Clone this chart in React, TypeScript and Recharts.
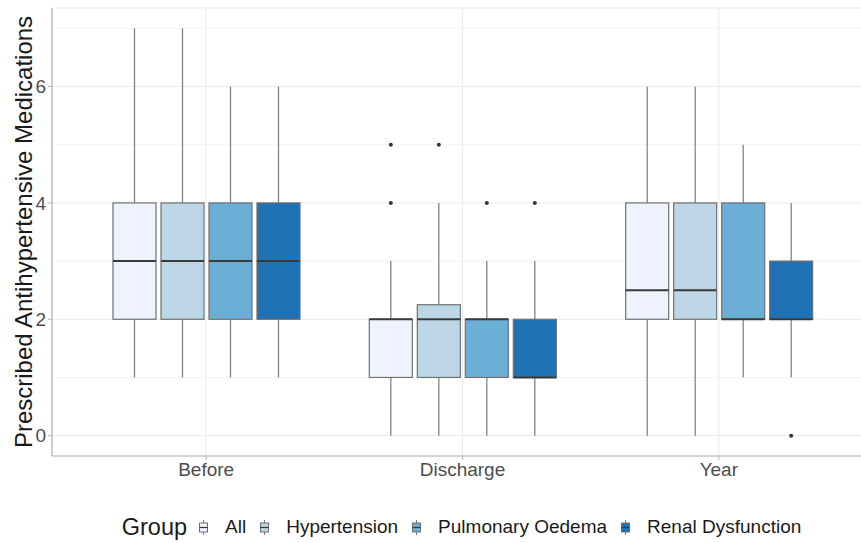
import { ComposedChart, Bar, XAxis, YAxis, CartesianGrid } from "recharts";

const categories = ["Before", "Discharge", "Year"];
const groups = ["All", "Hypertension", "Pulmonary Oedema", "Renal Dysfunction"];
const COLORS = ["#EFF3FF", "#BDD7E7", "#6BAED6", "#2171B5"];

// [lower whisker, q1, median, q3, upper whisker] for Before / Discharge / Year
const allStats = [[1, 2, 3, 4, 7], [0, 1, 2, 2, 3], [0, 2, 2.5, 4, 6]];
const hypertensionStats = [[1, 2, 3, 4, 7], [0, 1, 2, 2.25, 4], [0, 2, 2.5, 4, 6]];
const pulmonaryStats = [[1, 2, 3, 4, 6], [0, 1, 2, 2, 3], [1, 2, 2, 4, 5]];
const renalStats = [[1, 2, 3, 4, 6], [0, 1, 1, 2, 3], [1, 2, 2, 3, 4]];

const allOutliers = [[], [4, 5], []];
const hypertensionOutliers = [[], [5], []];
const pulmonaryOutliers = [[], [4], []];
const renalOutliers = [[], [4], [0]];

const yTicks = [0, 2, 4, 6];
const yMinor = [1, 3, 5, 7];
const yDomain = [-0.35, 7.35];

const stats = [allStats, hypertensionStats, pulmonaryStats, renalStats];
const outliers = [allOutliers, hypertensionOutliers, pulmonaryOutliers, renalOutliers];

// one row per category, box range [q1, q3] per group
const data = categories.map((name, i) => {
  const row: Record<string, any> = { name };
  groups.forEach((_, g) => {
    row[`g${g}`] = [stats[g][i][1], stats[g][i][3]];
  });
  return row;
});

const FONT = "'Liberation Sans', Arial, Helvetica, sans-serif";

function makeBox(g: number) {
  return (props: any) => {
    const { x, y, width, height, index } = props;
    const [lo, q1, med, q3, hi] = stats[g][index];
    const top = Math.min(y, y + height);
    const h = Math.abs(height);
    const ppu = h / (q3 - q1);
    const yOf = (v: number) => top + (q3 - v) * ppu;
    const cx = x + width / 2;
    return (
      <g>
        <line x1={cx} x2={cx} y1={yOf(hi)} y2={yOf(q3)} stroke="#7a7a7a" strokeWidth={1.2} />
        <line x1={cx} x2={cx} y1={yOf(q1)} y2={yOf(lo)} stroke="#7a7a7a" strokeWidth={1.2} />
        <rect x={x} y={top} width={width} height={h} fill={COLORS[g]} stroke="#707070" strokeWidth={1.2} />
        <line x1={x} x2={x + width} y1={yOf(med)} y2={yOf(med)} stroke="#3a3a3a" strokeWidth={2} />
        {outliers[g][index].map((v: number, k: number) => (
          <circle key={k} cx={cx} cy={yOf(v)} r={2} fill="#333333" />
        ))}
      </g>
    );
  };
}

function YTitle(props: any) {
  const vb = props.viewBox || { x: 0, y: 8, width: 52, height: 448 };
  const tx = vb.x + 32;
  const ty = vb.y + vb.height / 2;
  return (
    <text
      x={tx}
      y={ty}
      transform={`rotate(-90, ${tx}, ${ty})`}
      textAnchor="middle"
      fontSize={24}
      fill="#1a1a1a"
      fontFamily={FONT}
    >
      Prescribed Antihypertensive Medications
    </text>
  );
}

function KeyGlyph({ color }: { color: string }) {
  return (
    <svg width={17} height={17} style={{ display: "block" }}>
      <line x1={8.5} x2={8.5} y1={1} y2={16} stroke="#7a7a7a" strokeWidth={1} />
      <rect x={4.5} y={4} width={8} height={9} fill={color} stroke="#707070" strokeWidth={1} />
      <line x1={4.5} x2={12.5} y1={8.5} y2={8.5} stroke="#3a3a3a" strokeWidth={1.2} />
    </svg>
  );
}

export default function App() {
  return (
    <div style={{ position: "absolute", left: 0, top: 0, width: 861, height: 543, overflow: "hidden", background: "#fff" }}>
      <ComposedChart
        width={861}
        height={543}
        data={data}
        margin={{ top: 8, right: -11, bottom: 57, left: 0 }}
        barGap={5}
      >
        {/* minor horizontal grid */}
        <CartesianGrid vertical={false} horizontalValues={yMinor} stroke="#f4f4f4" strokeWidth={1} />
        {/* major grid */}
        <CartesianGrid stroke="#ebebeb" strokeWidth={1} />
        {/* panel top border */}
        <CartesianGrid vertical={false} horizontalValues={[yDomain[1]]} stroke="#b3b3b3" strokeWidth={1.2} />
        <XAxis
          dataKey="name"
          padding={{ left: 26, right: 25 }}
          height={30}
          tickSize={4}
          tickMargin={3}
          axisLine={{ stroke: "#b3b3b3", strokeWidth: 1.2 }}
          tickLine={{ stroke: "#b3b3b3" }}
          tick={{ fontSize: 19, fill: "#4d4d4d", fontFamily: FONT }}
        />
        <YAxis
          type="number"
          domain={yDomain}
          ticks={yTicks}
          allowDataOverflow
          width={52}
          tickSize={4}
          tickMargin={2}
          axisLine={{ stroke: "#b3b3b3", strokeWidth: 1.2 }}
          tickLine={{ stroke: "#b3b3b3" }}
          tick={{ fontSize: 19, fill: "#4d4d4d", fontFamily: FONT }}
          label={<YTitle />}
        />
        {groups.map((name, g) => (
          <Bar
            key={name}
            dataKey={`g${g}`}
            name={name}
            barSize={43}
            fill={COLORS[g]}
            shape={makeBox(g)}
            isAnimationActive={false}
          />
        ))}
      </ComposedChart>
      <div
        style={{
          position: "absolute",
          left: 52,
          top: 509,
          width: 819,
          height: 36,
          display: "flex",
          alignItems: "center",
          justifyContent: "center",
          fontFamily: FONT,
          color: "#1a1a1a",
        }}
      >
        <span style={{ fontSize: 23.5, marginRight: 8 }}>Group</span>
        {groups.map((name, g) => (
          <div key={name} style={{ display: "flex", alignItems: "center", marginRight: g < groups.length - 1 ? 10 : 0 }}>
            <KeyGlyph color={COLORS[g]} />
            <span style={{ fontSize: 19, marginLeft: 13 }}>{name}</span>
          </div>
        ))}
      </div>
    </div>
  );
}
